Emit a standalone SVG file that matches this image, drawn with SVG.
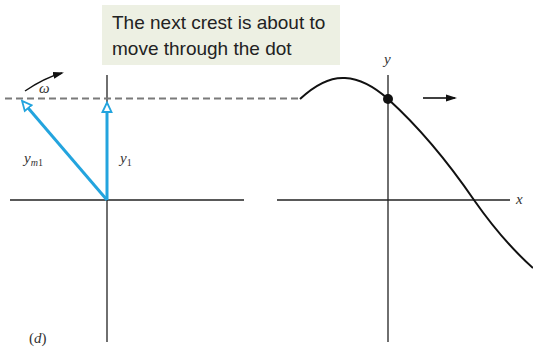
<svg xmlns="http://www.w3.org/2000/svg" width="533" height="350" viewBox="0 0 533 350">
<style>
.ax{stroke:#222;stroke-width:1.3;fill:none}
.vec{stroke:#23a4de;stroke-width:3;fill:none}
.dash{stroke:#7a7a7a;stroke-width:1.8;stroke-dasharray:7 4;fill:none}
.lbl{font-family:"Liberation Serif",serif;font-style:italic;font-size:15px;fill:#333}
.cap{font-family:"Liberation Sans",Arial,sans-serif;font-size:19px;fill:#222}
</style>
<defs>
<marker id="open" markerWidth="12" markerHeight="14" refX="9" refY="6" orient="auto" markerUnits="userSpaceOnUse" viewBox="0 0 12 12">
<path d="M1,1.5 L10.5,6 L1,10.5 Z" fill="#fff" stroke="#23a4de" stroke-width="1.8"/>
</marker>
<marker id="fill" markerWidth="12" markerHeight="10" refX="9" refY="5" orient="auto" markerUnits="userSpaceOnUse" viewBox="0 0 12 10">
<path d="M0,1.5 L11,5 L0,8.5 Z" fill="#111"/>
</marker>
</defs>
<g id="caption">
<rect x="102" y="5" width="238" height="60" fill="#edf0e3"/>
<text class="cap" x="112" y="29">The next crest is about to</text>
<text class="cap" x="112" y="55">move through the dot</text>
</g>
<g id="left-axes">
<line class="ax" x1="10" y1="200" x2="244" y2="200"/>
<line class="ax" x1="107" y1="75" x2="107" y2="342"/>
</g>
<g id="right-axes">
<line class="ax" x1="277" y1="200" x2="510" y2="200"/>
<line class="ax" x1="388" y1="75" x2="388" y2="342"/>
<text class="lbl" x="516" y="204">x</text>
<text class="lbl" x="384" y="64">y</text>
</g>
<g id="connectors">
<line class="dash" x1="5" y1="98.5" x2="300" y2="98.5"/>
<line class="vec" x1="107" y1="200" x2="107" y2="104" marker-end="url(#open)"/>
<line class="vec" x1="107" y1="200" x2="23" y2="102" marker-end="url(#open)"/>
<path d="M25,91 Q44,78 62,73" stroke="#111" stroke-width="1.4" fill="none" marker-end="url(#fill)"/>
<line x1="423" y1="98" x2="455" y2="98" stroke="#111" stroke-width="1.6" marker-end="url(#fill)"/>
</g>
<g id="wave">
<path d="M300,99 C315,85 330,77 345,78 C362,79 378,90 388,99 C420,128 450,165 474,200 C495,230 515,252 533,268" stroke="#111" stroke-width="2" fill="none"/>
<circle cx="388" cy="99" r="5" fill="#111"/>
</g>
<g id="labels">
<text class="lbl" x="39" y="93">ω</text>
<text class="lbl" x="24" y="163">y<tspan font-size="10" dy="3">m</tspan><tspan font-size="10" font-style="normal">1</tspan></text>
<text class="lbl" x="120" y="163">y<tspan font-size="10" dy="3" font-style="normal">1</tspan></text>
<text class="lbl" x="29" y="343"><tspan font-style="normal">(</tspan>d<tspan font-style="normal">)</tspan></text>
</g>
</svg>
